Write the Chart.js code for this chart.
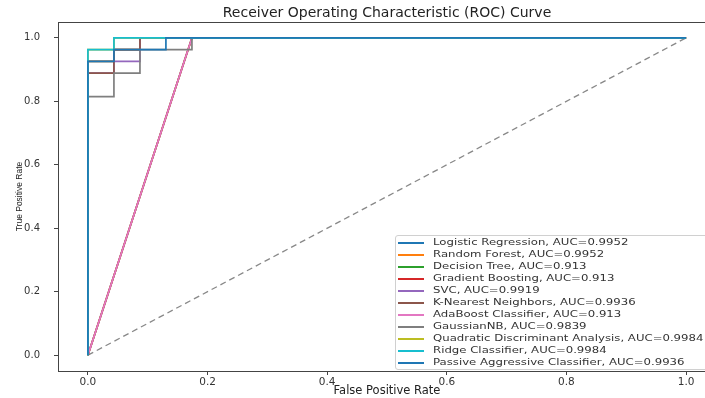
<!DOCTYPE html>
<html>
<head>
<meta charset="utf-8">
<script src="https://cdn.jsdelivr.net/npm/chart.js@4/dist/chart.umd.min.js"></script>
<style>
    html, body { margin: 0; padding: 0; background: #fff; overflow: hidden; }
    #wrap { position: relative; width: 730px; height: 398px; }
    #legend {
        position: absolute; left: 395px; top: 235px; width: 330px;
        border: 1px solid #d0d0d0; border-radius: 3px; background: rgba(255,255,255,0.85);
        padding: 0 0 1px 0; font-family: 'DejaVu Sans', sans-serif; font-size: 9.5px; color: #333;
    }
    .row { height: 12px; line-height: 12px; white-space: nowrap; }
    .swatch { display: inline-block; width: 26px; height: 2px; margin: 0 9px 0 2px; vertical-align: middle; }
    .txt { display: inline-block; transform: scaleX(1.233); transform-origin: 0 50%; }
</style>
</head>
<body>
<div id="wrap">
    <canvas id="roc"></canvas>
    <div id="legend"></div>
</div>
<script>
const modelNames = [
    'Logistic Regression',
    'Random Forest',
    'Decision Tree',
    'Gradient Boosting',
    'SVC',
    'K-Nearest Neighbors',
    'AdaBoost Classifier',
    'GaussianNB',
    'Quadratic Discriminant Analysis',
    'Ridge Classifier',
    'Passive Aggressive Classifier'
];
const aucScores = ['0.9952', '0.9952', '0.913', '0.913', '0.9919', '0.9936', '0.913', '0.9839', '0.9984', '0.9984', '0.9936'];

// roc points (fpr / tpr)
const fprLogistic = [0, 0, 0.0435, 0.0435, 0.087, 0.087, 1];
const tprLogistic = [0, 0.9259, 0.9259, 0.963, 0.963, 1, 1];
const fprForest = [0, 0, 0.0435, 0.0435, 0.087, 0.087, 1];
const tprForest = [0, 0.9259, 0.9259, 0.963, 0.963, 1, 1];
const fprTree = [0, 0.1739, 1];
const tprTree = [0, 1, 1];
const fprBoosting = [0, 0.1739, 1];
const tprBoosting = [0, 1, 1];
const fprSvc = [0, 0, 0.0435, 0.0435, 0.087, 0.087, 1];
const tprSvc = [0, 0.8889, 0.8889, 0.9259, 0.9259, 1, 1];
const fprKnn = [0, 0, 0.0435, 0.0435, 0.087, 0.087, 1];
const tprKnn = [0, 0.8889, 0.8889, 0.963, 0.963, 1, 1];
const fprAda = [0, 0.1739, 1];
const tprAda = [0, 1, 1];
const fprGnb = [0, 0, 0.0435, 0.0435, 0.087, 0.087, 0.1739, 0.1739, 1];
const tprGnb = [0, 0.8148, 0.8148, 0.8889, 0.8889, 0.963, 0.963, 1, 1];
const fprQda = [0, 0, 0.0435, 0.0435, 1];
const tprQda = [0, 0.963, 0.963, 1, 1];
const fprRidge = [0, 0, 0.0435, 0.0435, 1];
const tprRidge = [0, 0.963, 0.963, 1, 1];
const fprPassive = [0, 0, 0.0435, 0.0435, 0.1304, 0.1304, 1];
const tprPassive = [0, 0.9259, 0.9259, 0.963, 0.963, 1, 1];

const chanceX = [0, 1];
const chanceY = [0, 1];
const axisTicks = [0, 0.2, 0.4, 0.6, 0.8, 1.0];

const fprSets = [fprLogistic, fprForest, fprTree, fprBoosting, fprSvc, fprKnn, fprAda, fprGnb, fprQda, fprRidge, fprPassive];
const tprSets = [tprLogistic, tprForest, tprTree, tprBoosting, tprSvc, tprKnn, tprAda, tprGnb, tprQda, tprRidge, tprPassive];
const colors = ['#1f77b4', '#ff7f0e', '#2ca02c', '#d62728', '#9467bd', '#8c564b', '#e377c2', '#7f7f7f', '#bcbd22', '#17becf', '#1f77b4'];

function toPoints(xs, ys) {
    return xs.map((x, i) => ({ x: x, y: ys[i] }));
}

const datasets = modelNames.map((name, i) => ({
    label: name + ', AUC=' + aucScores[i],
    data: toPoints(fprSets[i], tprSets[i]),
    borderColor: colors[i],
    backgroundColor: colors[i],
    borderWidth: 1.7,
    pointRadius: 0,
    showLine: true,
    tension: 0,
    order: modelNames.length - i
}));

datasets.push({
    label: 'chance',
    data: toPoints(chanceX, chanceY),
    borderColor: '#888',
    borderWidth: 1.3,
    borderDash: [6, 4],
    pointRadius: 0,
    showLine: true,
    order: modelNames.length + 1
});

const frame = {
    id: 'frame',
    beforeDatasetsDraw(chart) {
        const a = chart.chartArea;
        const ctx = chart.ctx;
        ctx.save();
        ctx.strokeStyle = '#444';
        ctx.lineWidth = 1;
        ctx.strokeRect(a.left + 0.5, a.top + 0.5, a.right - a.left, a.bottom - a.top);
        ctx.restore();
    }
};

const chart = new Chart(document.querySelector('#roc'), {
    type: 'scatter',
    data: { datasets },
    options: {
        responsive: true,
        maintainAspectRatio: false,
        animation: false,
        events: [],
        layout: { padding: { left: 0, top: 0, right: 14, bottom: 0 } },
        plugins: {
            legend: { display: false },
            tooltip: { enabled: false },
            title: {
                display: true,
                fullSize: false,
                text: 'Receiver Operating Characteristic (ROC) Curve',
                color: '#222',
                font: { family: 'DejaVu Sans', size: 14, weight: 'normal', lineHeight: 1.2 },
                padding: { top: 4.6, bottom: 0.6 }
            }
        },
        scales: {
            x: {
                type: 'linear',
                min: -0.05,
                max: 1.05,
                afterBuildTicks: scale => { scale.ticks = axisTicks.map(v => ({ value: v })); },
                afterFit: scale => { scale.height = 27; scale.paddingLeft = 0; scale.paddingRight = 0; },
                ticks: {
                    color: '#333',
                    font: { family: 'DejaVu Sans', size: 10.5 },
                    padding: 1,
                    maxRotation: 0,
                    callback: v => Number(v).toFixed(1)
                },
                grid: { drawOnChartArea: false, tickLength: 4, color: '#444' },
                border: { color: '#444' },
                title: {
                    display: true,
                    text: 'False Positive Rate',
                    color: '#222',
                    font: { family: 'DejaVu Sans', size: 11.5 },
                    padding: { top: 0, bottom: 0 }
                }
            },
            y: {
                type: 'linear',
                min: -0.05,
                max: 1.05,
                afterBuildTicks: scale => { scale.ticks = axisTicks.map(v => ({ value: v })); },
                afterFit: scale => { scale.width = 58; scale.paddingTop = 0; scale.paddingBottom = 0; },
                ticks: {
                    color: '#333',
                    font: { family: 'DejaVu Sans', size: 10 },
                    padding: 14,
                    callback: v => Number(v).toFixed(1)
                },
                grid: { drawOnChartArea: false, tickLength: 4, color: '#444' },
                border: { color: '#444' },
                title: {
                    display: true,
                    text: 'True Positive Rate',
                    color: '#222',
                    font: { family: 'Liberation Sans Narrow, Liberation Sans', size: 8.5 },
                    padding: { top: 15, bottom: 0 }
                }
            }
        }
    },
    plugins: [frame]
});

// legend box, built from the same names and colours
const legend = document.querySelector('#legend');
modelNames.forEach((name, i) => {
    const row = document.createElement('div');
    row.className = 'row';
    const sw = document.createElement('span');
    sw.className = 'swatch';
    sw.style.background = colors[i];
    const txt = document.createElement('span');
    txt.className = 'txt';
    txt.textContent = name + ', AUC=' + aucScores[i];
    row.appendChild(sw);
    row.appendChild(txt);
    legend.appendChild(row);
});
</script>
</body>
</html>
